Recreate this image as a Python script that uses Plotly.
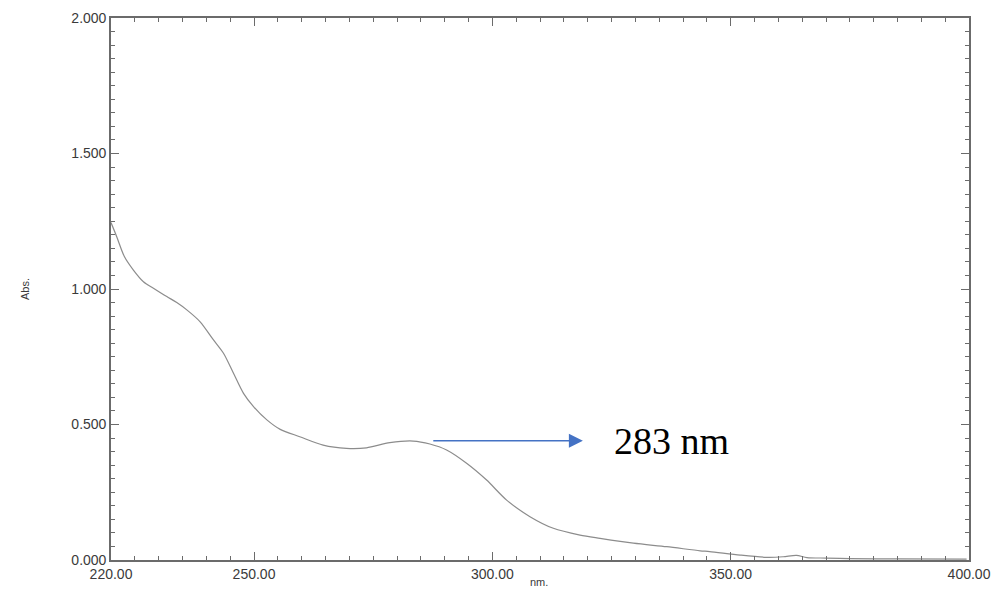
import plotly.graph_objects as go

# Absorption spectrum (wavelength in nm, absorbance)
wavelength = [220.0, 221.2, 222.8, 224.7, 226.8, 228.9, 231.7, 233.8, 235.9, 238.7,
              241.5, 243.6, 245.7, 247.8, 249.9, 252.7, 255.5, 259.6, 264.5, 269.4,
              273.6, 278.5, 283.4, 286.9, 290.4, 294.6, 298.8, 303.0, 307.9, 312.8,
              318.4, 322.6, 329.6, 336.6, 343.6, 345.6, 352.0, 357.5, 361.0, 363.8,
              366.0, 370.0, 375.0, 385.0, 399.5]
absorbance = [1.245, 1.193, 1.120, 1.070, 1.027, 1.003, 0.972, 0.950, 0.923, 0.879,
              0.812, 0.763, 0.689, 0.615, 0.566, 0.517, 0.482, 0.455, 0.424, 0.412,
              0.414, 0.433, 0.439, 0.428, 0.406, 0.357, 0.295, 0.221, 0.160, 0.117,
              0.092, 0.080, 0.062, 0.049, 0.034, 0.031, 0.018, 0.010, 0.012, 0.017,
              0.009, 0.007, 0.005, 0.004, 0.003]

x_ticks = [220, 250, 300, 350, 400]
x_labels = ["220.00", "250.00", "300.00", "350.00", "400.00"]
y_ticks = [0.0, 0.5, 1.0, 1.5, 2.0]
y_labels = ["0.000", "0.500", "1.000", "1.500", "2.000"]

peak_label = "283 nm"
arrow_tail = (287.3, 0.440)
arrow_tip = (319.0, 0.440)
label_pos = (325.0, 0.440)

W, H = 992, 590
ml, mr, mt, mb = 111, 23, 18, 30
pw, ph = W - ml - mr, H - mt - mb

axis_color = "#6b6b6b"
sans = "Liberation Sans, Arial, sans-serif"
tick_font = dict(family=sans, size=14, color="#3a3a3a")
title_font = dict(family=sans, size=11, color="#3a3a3a")

fig = go.Figure()
fig.add_trace(go.Scatter(
    x=wavelength, y=absorbance, mode="lines",
    line=dict(color="#8c8c8c", width=1.2, shape="spline", smoothing=0.8),
    showlegend=False, hoverinfo="skip",
))

# peak marker arrow and label
fig.add_annotation(
    x=arrow_tip[0], y=arrow_tip[1], ax=arrow_tail[0], ay=arrow_tail[1],
    xref="x", yref="y", axref="x", ayref="y",
    text="", showarrow=True, arrowhead=2, arrowsize=2.0, arrowwidth=1.4,
    arrowcolor="#4472C4", standoff=0, startstandoff=0,
)
fig.add_annotation(
    x=label_pos[0], y=label_pos[1], xref="x", yref="y",
    text=peak_label, showarrow=False, xanchor="left", yanchor="middle",
    font=dict(family="Liberation Serif, Times New Roman, serif", size=38, color="#000000"),
)

# axis titles, placed in pixel terms relative to the plot area
fig.add_annotation(
    x=(17 - ml) / pw, y=(H - mb - 289) / ph, xref="paper", yref="paper",
    text="Abs.", showarrow=False, textangle=-90, font=title_font,
)
fig.add_annotation(
    x=(539 - ml) / pw, y=-(582 - (H - mb)) / ph, xref="paper", yref="paper",
    text="nm.", showarrow=False, xanchor="center", yanchor="middle", font=title_font,
)

fig.update_xaxes(
    range=[220, 400], tickvals=x_ticks, ticktext=x_labels, automargin=False,
    ticks="inside", ticklen=8, tickwidth=1.3, tickcolor=axis_color,
    showline=True, linecolor=axis_color, linewidth=1.6, mirror="allticks",
    showgrid=False, zeroline=False, tickfont=tick_font,
    minor=dict(dtick=5, tick0=220, ticks="inside", ticklen=4, tickwidth=1.1,
               tickcolor=axis_color, showgrid=False),
)
fig.update_yaxes(
    range=[0, 2], tickvals=y_ticks, ticktext=y_labels, automargin=False,
    ticks="inside", ticklen=8, tickwidth=1.3, tickcolor=axis_color,
    showline=True, linecolor=axis_color, linewidth=1.6, mirror="allticks",
    showgrid=False, zeroline=False, tickfont=tick_font,
    minor=dict(dtick=0.05, tick0=0, ticks="inside", ticklen=4, tickwidth=1.1,
               tickcolor=axis_color, showgrid=False),
)

fig.update_layout(
    width=W, height=H,
    margin=dict(l=ml, r=mr, t=mt, b=mb),
    paper_bgcolor="white", plot_bgcolor="white",
)

fig.write_html("out.html")
